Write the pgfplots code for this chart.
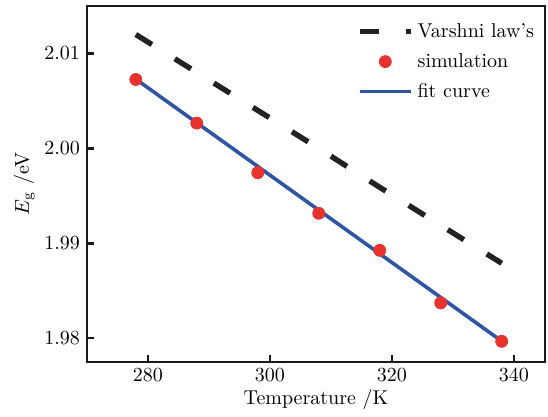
\documentclass[border=0pt]{standalone}
\usepackage{pgfplots}
\pgfplotsset{compat=1.18}
\definecolor{simred}{HTML}{E8322E}
\definecolor{fitblue}{HTML}{2F55A4}
\definecolor{dashblk}{HTML}{222222}
\begin{document}
\begin{tikzpicture}
\begin{axis}[
  scale only axis,
  width=229pt, height=178pt,
  xmin=270, xmax=345.1,
  ymin=1.9775, ymax=2.0150,
  xtick={280,300,320,340},
  ytick={1.98,1.99,2.00,2.01},
  yticklabel style={/pgf/number format/.cd, fixed, fixed zerofill, precision=2},
  tick pos=left,
  tick align=inside,
  major tick length=3.5pt,
  axis line style={line width=1.2pt, black!90},
  every tick/.style={line width=1.2pt, black!90},
  xlabel={Temperature /K},
  ylabel={$E_{\mathrm{g}}$ /eV},
  xlabel style={yshift=3pt},
  ylabel style={yshift=-2pt},
  legend style={draw=none, fill=none, at={(0.99,0.975)}, anchor=north east,
    row sep=2.5pt, font=\normalsize, inner xsep=1pt},
  legend cell align=left,
  legend image code/.code={\draw[mark repeat=2,mark phase=2,#1] plot coordinates {(0cm,0cm) (0.45cm,0cm) (0.9cm,0cm)};},
]
\addplot[dashblk, line width=2.7pt, dash pattern=on 9.5pt off 13.5pt] coordinates {
  (278,2.0120) (288,2.0080) (298,2.0040) (308,2.0000) (318,1.9959) (328,1.9919) (338,1.9879)
};
\addlegendentry{Varshni law's}
\addplot[only marks, mark=*, mark size=3pt, simred, mark options={draw=simred, fill=simred}] coordinates {
  (278,2.00726) (288,2.00266) (298,1.99744) (308,1.99316) (318,1.98926) (328,1.98372) (338,1.97968)
};
\addlegendentry{simulation}
\addplot[fitblue, line width=1.8pt] coordinates {
  (278,2.0073) (338,1.9797)
};
\addlegendentry{fit curve}
\end{axis}
\path ([xshift=-43.5pt,yshift=-27pt]current axis.south west) rectangle ([xshift=1.5pt,yshift=3pt]current axis.north east);
\end{tikzpicture}
\end{document}
